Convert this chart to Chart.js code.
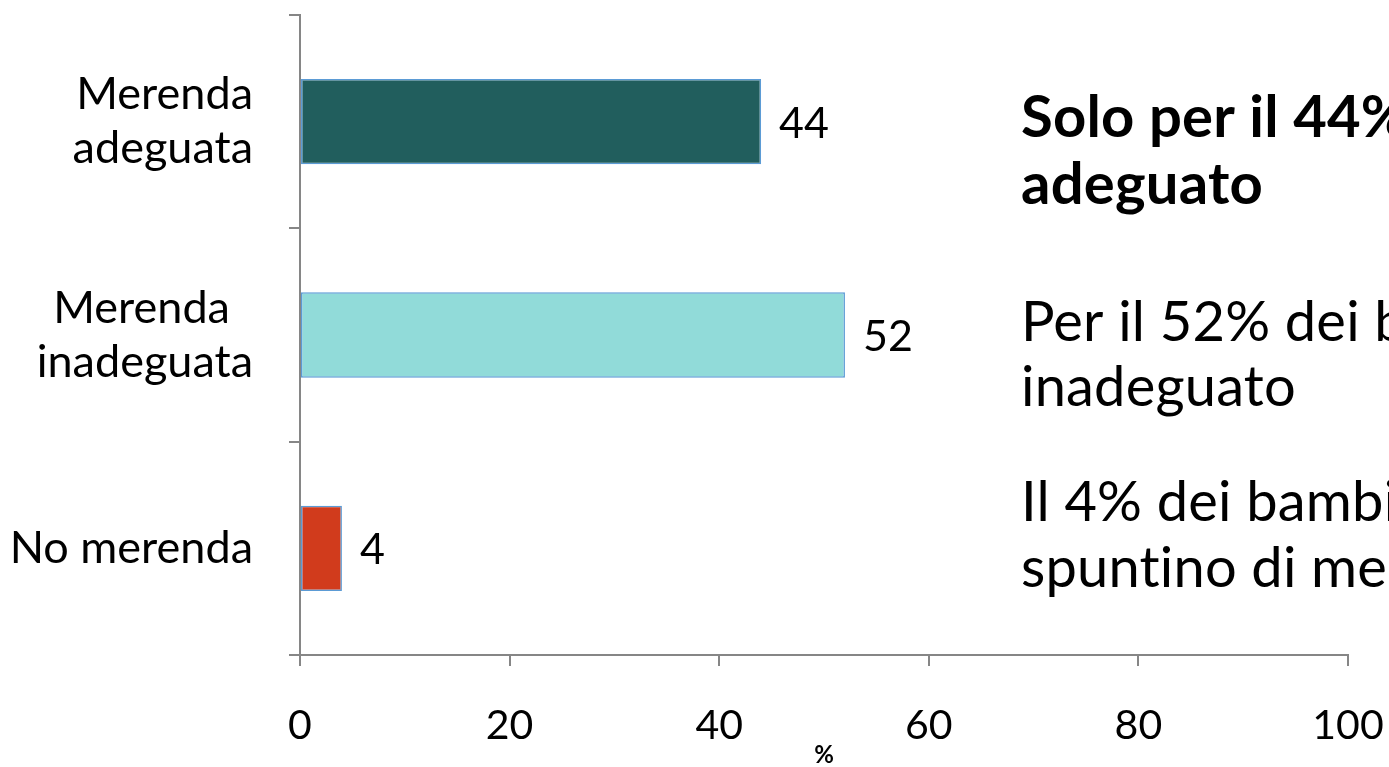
<!DOCTYPE html>
<html>
<head>
<meta charset="utf-8">
<script src="https://cdn.jsdelivr.net/npm/chart.js@4.4.1/dist/chart.umd.min.js"></script>
<style>
    html, body { margin: 0; padding: 0; background: #ffffff; overflow: hidden; }
    #wrap { width: 1389px; height: 767px; }
</style>
</head>
<body>
<div id="wrap"><canvas id="myChart" width="1389" height="767"></canvas></div>
<script>
// the second label is centred on its longer line, hence the trailing spaces
let categories = [["Merenda", "adeguata"], ["Merenda  ", "inadeguata"], "No merenda"];
let values = [44, 52, 4];
let barColors = ["#215E5D", "#91DBD9", "#D13B1C"];
let xTicks = [0, 20, 40, 60, 80, 100];
let axisTitle = "%";

let noteLines = [
    { text: "Solo per il 44%", bold: true, y: 137 },
    { text: "adeguato", bold: true, y: 204 },
    { text: "Per il 52% dei bambini", bold: false, y: 341 },
    { text: "inadeguato", bold: false, y: 406 },
    { text: "Il 4% dei bambini", bold: false, y: 521 },
    { text: "spuntino di merenda", bold: false, y: 587 },
];

const fontFamily = "Lato, 'Open Sans', sans-serif";
const axisGrey = "#868686";

// numbers at the end of each bar
const valueLabels = {
    id: "valueLabels",
    afterDatasetsDraw(chart) {
        let ctx = chart.ctx;
        let meta = chart.getDatasetMeta(0);
        ctx.save();
        ctx.font = "43px " + fontFamily;
        ctx.fillStyle = "#000";
        ctx.textAlign = "left";
        ctx.textBaseline = "middle";
        meta.data.forEach((bar, i) => {
            ctx.fillText(values[i] + "", bar.x + 18, bar.y + 2);
        });
        ctx.restore();
    },
};

// commentary text on the right, runs off the edge
const sideNotes = {
    id: "sideNotes",
    afterDraw(chart) {
        let ctx = chart.ctx;
        ctx.save();
        ctx.fillStyle = "#000";
        ctx.textAlign = "left";
        ctx.textBaseline = "alphabetic";
        ctx.letterSpacing = "0.2px"; // keeps "ti" from joining
        noteLines.forEach((line) => {
            ctx.font = (line.bold ? "bold 58px " : "56px ") + fontFamily;
            ctx.fillText(line.text, 1021, line.y);
        });
        ctx.restore();
    },
};

const ctx = document.getElementById("myChart");
new Chart(ctx, {
    type: "bar",
    data: {
        labels: categories,
        datasets: [
            {
                data: values,
                backgroundColor: barColors,
                borderColor: "#5B9BD5",
                borderWidth: 1.5,
                borderSkipped: false,
                barPercentage: 0.4,
                categoryPercentage: 1,
            },
        ],
    },
    options: {
        responsive: false,
        animation: false,
        indexAxis: "y",
        layout: {
            padding: { top: 15, right: 41, left: 0, bottom: 0 },
        },
        plugins: {
            legend: { display: false },
            tooltip: { enabled: false },
        },
        scales: {
            x: {
                min: 0,
                max: 100,
                afterBuildTicks: (scale) => {
                    scale.ticks = xTicks.map((v) => ({ value: v }));
                },
                afterFit: (scale) => {
                    scale.height = 112;
                    scale.paddingLeft = 0;
                    scale.paddingRight = 0;
                },
                ticks: {
                    padding: 35,
                    color: "#000",
                    maxRotation: 0,
                    autoSkip: false,
                    font: { family: fontFamily, size: 41 },
                },
                grid: {
                    drawOnChartArea: false,
                    drawTicks: true,
                    tickLength: 11,
                    color: axisGrey,
                    lineWidth: 2,
                },
                border: { color: axisGrey, width: 2 },
                title: {
                    display: true,
                    text: axisTitle,
                    color: "#000",
                    padding: { top: 0, bottom: -3 },
                    font: { family: fontFamily, size: 24, weight: "bold" },
                },
            },
            y: {
                afterFit: (scale) => {
                    scale.width = 300;
                    scale.paddingTop = 0;
                    scale.paddingBottom = 0;
                },
                ticks: {
                    padding: 36,
                    color: "#000",
                    font: { family: fontFamily, size: 45, lineHeight: 1.2 },
                },
                grid: {
                    drawOnChartArea: false,
                    drawTicks: true,
                    tickLength: 11,
                    color: axisGrey,
                    lineWidth: 2,
                },
                border: { color: axisGrey, width: 2 },
            },
        },
    },
    plugins: [valueLabels, sideNotes],
});
</script>
</body>
</html>
